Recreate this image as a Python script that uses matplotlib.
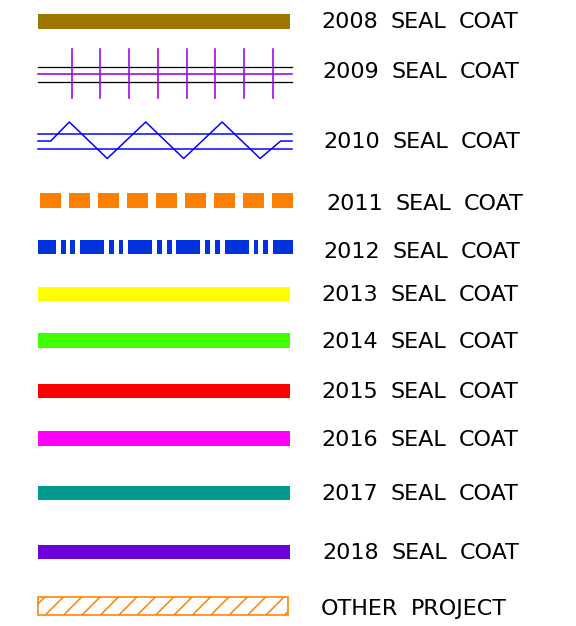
import numpy as np
import matplotlib
matplotlib.use("Agg")
import matplotlib.pyplot as plt
from matplotlib.patches import Rectangle

# legend entries (top to bottom)
labels = ["2008 SEAL COAT", "2009 SEAL COAT", "2010 SEAL COAT", "2011 SEAL COAT",
          "2012 SEAL COAT", "2013 SEAL COAT", "2014 SEAL COAT", "2015 SEAL COAT",
          "2016 SEAL COAT", "2017 SEAL COAT", "2018 SEAL COAT", "OTHER PROJECT"]
colors = ["#9b7700", "#a000e0", "#0000ff", "#ff8000", "#0033dd", "#ffff00",
          "#40ff00", "#ff0000", "#ff00ff", "#009a90", "#6e00dc", "#ff8000"]
kinds = ["solid", "rail", "zigzag", "dash", "dashdot", "solid",
         "solid", "solid", "solid", "solid", "solid", "hatch"]

# layout in pixels (figure is 576 x 626)
row_y = [21.5, 74, 141, 200.5, 247, 294, 340.5, 391, 438.5, 493, 552, 606]
text_x = [321, 322, 323, 326, 323, 321, 321, 321, 321, 321, 322, 321]
text_base = [28.5, 78.5, 148.5, 210, 257.5, 301, 347.5, 398.5, 445.5, 500.5, 559, 615]
x0, x1 = 37.5, 289.5
bar_h = 14.4
word_gap = 12.5
PX = 0.72  # points per pixel at dpi 100

fig = plt.figure(figsize=(5.76, 6.26), dpi=100)
ax = fig.add_axes([0, 0, 1, 1])
ax.set_xlim(0, 576)
ax.set_ylim(626, 0)
ax.axis("off")
renderer = fig.canvas.get_renderer()

for lab, c, k, y, tx, tb in zip(labels, colors, kinds, row_y, text_x, text_base):
    if k == "solid":
        ax.broken_barh([(x0, x1 - x0)], (y - bar_h / 2, bar_h), facecolors=c)
    elif k == "rail":
        for dy in (-7.5, 7.5):
            ax.plot([38, 292], [y + dy, y + dy], color="black", lw=1.3 * PX)
        ax.plot([38, 292], [y, y], color=c, lw=1.6 * PX)
        for i in range(8):
            xv = 71.7 + 28.7 * i
            ax.plot([xv, xv], [y - 25, y + 24], color=c, lw=1.6 * PX)
    elif k == "zigzag":
        for dy in (-7.5, 7.5):
            ax.plot([38, 292], [y + dy, y + dy], color=c, lw=1.5 * PX)
        zx = [38, 50.7]
        zy = [y, y]
        for i in range(3):
            zx += [69.3 + 76.4 * i, 107.3 + 76.4 * i]
            zy += [y - 19, y + 17.5]
        zx += [280.7, 292]
        zy += [y, y]
        ax.plot(zx, zy, color=c, lw=1.5 * PX)
    elif k == "dash":
        segs = [(40 + 29 * i, 20.5) for i in range(9)]
        ax.broken_barh(segs, (y - 7.2, 14.4), facecolors=c)
    elif k == "dashdot":
        segs = []
        for i in range(6):
            s = 31.8 + 48.2 * i
            for a, b in ((0, 24), (29, 33.7), (38.5, 43.3)):
                lo, hi = max(s + a, 38.3), min(s + b, 293)
                if hi > lo:
                    segs.append((lo, hi - lo))
        ax.broken_barh(segs, (y - 7.2, 14.4), facecolors=c)
    elif k == "hatch":
        rect = Rectangle((37.7, y - 9.3), 250.6, 18.6, facecolor="none",
                         edgecolor=c, lw=1.6 * PX)
        ax.add_patch(rect)
        for i in range(-1, 15):
            xb = 26.6 + 18.4 * i
            ln, = ax.plot([xb, xb + 18.6], [y + 9.3, y - 9.3], color=c, lw=1.5 * PX)
            ln.set_clip_path(rect)

    # CAD lettering is widely spaced: place word by word
    xw = tx
    for w in lab.split():
        t = ax.text(xw, tb, w, fontsize=16, family="DejaVu Sans", color="black",
                    va="baseline", ha="left")
        xw += t.get_window_extent(renderer).width + word_gap

fig.savefig("out.png", dpi=100, facecolor="white")
